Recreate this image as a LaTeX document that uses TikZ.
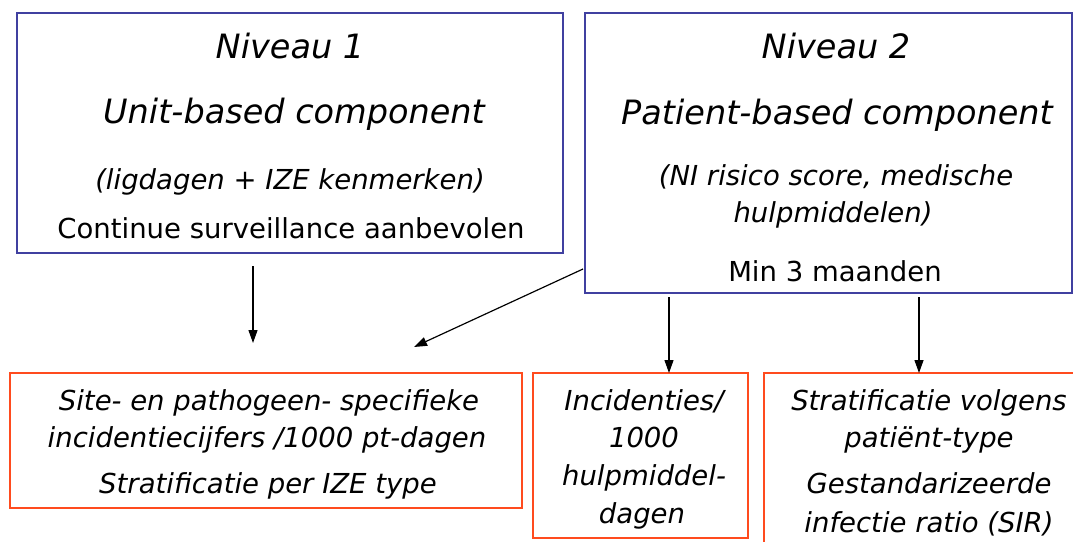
\documentclass[tikz,border=0pt]{standalone}
\usepackage{fontspec}
\setmainfont{DejaVu Sans}
\usetikzlibrary{arrows.meta}
\definecolor{boxblue}{RGB}{64,64,160}
\definecolor{boxred}{RGB}{255,75,30}
\tikzset{
  bluebox/.style={draw=boxblue, line width=1.5pt, inner sep=0pt, outer sep=0pt},
  redbox/.style={draw=boxred, line width=1.6pt, inner sep=0pt, outer sep=0pt},
  bigit/.style={anchor=base, inner sep=0pt, font=\fontsize{33.5}{40}\selectfont\itshape},
  smit/.style={anchor=base, inner sep=0pt, font=\fontsize{27.5}{33}\selectfont\itshape},
  smrm/.style={anchor=base, inner sep=0pt, font=\fontsize{27.5}{33}\selectfont},
  arr/.style={line width=1.2pt, -{Triangle[length=13pt,width=9pt]}}
}
\begin{document}
\begin{tikzpicture}[x=1pt,y=-1pt]
\useasboundingbox (0,0) rectangle (1073,541);
\clip (0,0) rectangle (1073,541);
% top boxes
\node[bluebox, minimum width=546pt, minimum height=240pt] (n1) at (290,133) {};
\node[bluebox, minimum width=487pt, minimum height=280pt] (n2) at (828.5,153) {};
% box 1 texts
\node[bigit] (t1a) at (290,58) {Niveau 1};
\node[bigit] (t1b) at (294,123) {Unit-based component};
\node[smit] (t1c) at (290,189) {(ligdagen + IZE kenmerken)};
\node[smrm] (t1d) at (291,238) {Continue surveillance aanbevolen};
% box 2 texts
\node[bigit] (t2a) at (836,58) {Niveau 2};
\node[bigit] (t2b) at (837,124) {Patient-based component};
\node[smit] (t2c) at (836,185) {(NI risico score, medische};
\node[smit] (t2d) at (833,222) {hulpmiddelen)};
\node[smrm] (t2e) at (835,281) {Min 3 maanden};
% bottom boxes
\node[redbox, minimum width=512pt, minimum height=135pt] (ba) at (266,440.5) {};
\node[redbox, minimum width=215pt, minimum height=165pt] (bb) at (640.5,455.5) {};
\node[redbox, minimum width=330pt, minimum height=190pt] (bc) at (929,468) {};
% box A texts
\node[smit] (ta1) at (269,410) {Site- en pathogeen- specifieke};
\node[smit] (ta2) at (267,447) {incidentiecijfers /1000 pt-dagen};
\node[smit] (ta3) at (268,493) {Stratificatie per IZE type};
% box B texts
\node[smit] (tb1) at (644,410) {Incidenties/};
\node[smit] (tb2) at (644,447) {1000};
\node[smit] (tb3) at (644,485) {hulpmiddel-};
\node[smit] (tb4) at (642,523) {dagen};
% box C texts
\node[smit] (tc1) at (929,410) {Stratificatie volgens};
\node[smit] (tc2) at (929,447) {patiënt-type};
\node[smit] (tc3) at (929,493) {Gestandarizeerde};
\node[smit] (tc4) at (929,532) {infectie ratio (SIR)};
% connectors
\coordinate (s1) at (253,266);
\coordinate (e1) at (253,343);
\coordinate (s2) at (583,269);
\coordinate (e2) at (414,347);
\coordinate (s3) at (669,297);
\coordinate (s4) at (919,297);
\draw[arr] (s1) -- (e1);
\draw[arr] (s2) -- (e2);
\draw[arr] (s3) -- (s3 |- bb.north);
\draw[arr] (s4) -- (s4 |- bc.north);
\end{tikzpicture}
\end{document}
